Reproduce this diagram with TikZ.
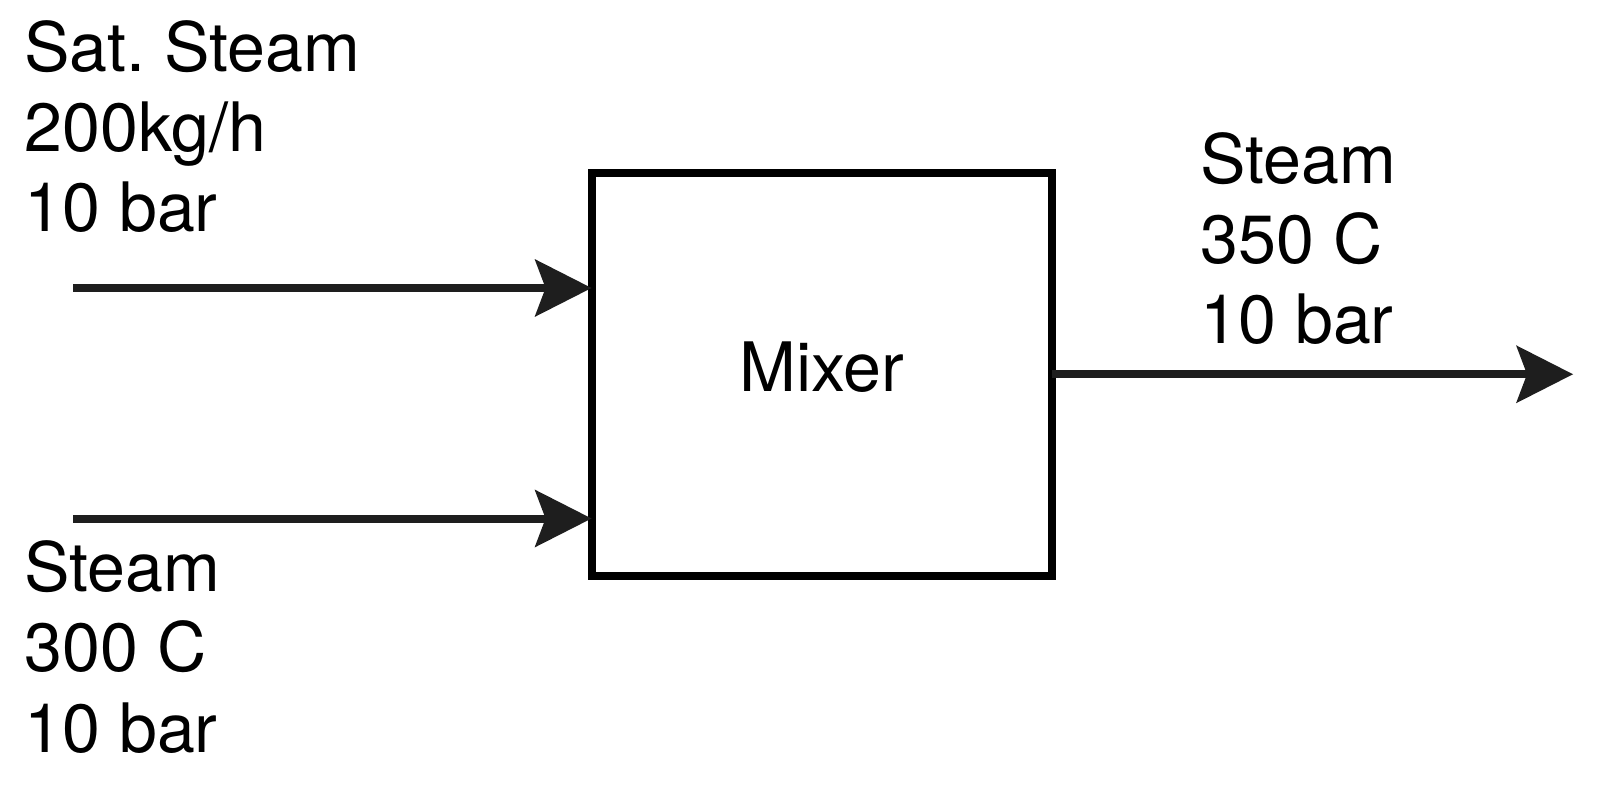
\documentclass[tikz,border=0pt]{standalone}
\usepackage{fontspec}
\setmainfont{TeX Gyre Heros}
\usetikzlibrary{arrows.meta}
\frenchspacing
\definecolor{flow_grey}{RGB}{30, 30, 30}
\tikzstyle{unit}=[rectangle,draw=black,line width=0.16cm,inner sep=0pt,
  outer sep=0pt,minimum width=9.21cm,minimum height=8.07cm,text depth=0.29cm,
  font=\fontsize{38.8}{45.8}\selectfont]
\tikzstyle{stream}=[anchor=base west,align=left,inner sep=0pt,
  font=\fontsize{38.8}{45.8}\selectfont]
\tikzstyle{flow}=[draw=flow_grey,line width=0.16cm,
  -{Stealth[length=1.14cm,width=1.16cm,inset=0.22cm,line width=0pt]}]

\begin{document}
\begin{tikzpicture}[x=0.02cm, y=-0.02cm]
            \useasboundingbox (0, 0) rectangle (1601, 793);
            \node [style=unit] (0) at (821.75, 374.25) {Mixer};
            \node [style=stream] (1) at (24, 232) {Sat. Steam\\200kg/h\\10 bar};
            \node [style=stream] (2) at (24, 752) {Steam\\300 C\\10 bar};
            \node [style=stream] (3) at (1200, 344) {Steam\\350 C\\10 bar};
            \coordinate (4) at (73, 288);
            \coordinate (5) at (73, 518.5);
            \coordinate (6) at (1573, 374.25);
            \draw [style=flow] (4) to (4 -| 0.west);
            \draw [style=flow] (5) to (5 -| 0.west);
            \draw [style=flow] (0.east) to (6);
    \end{tikzpicture}
\end{document}
